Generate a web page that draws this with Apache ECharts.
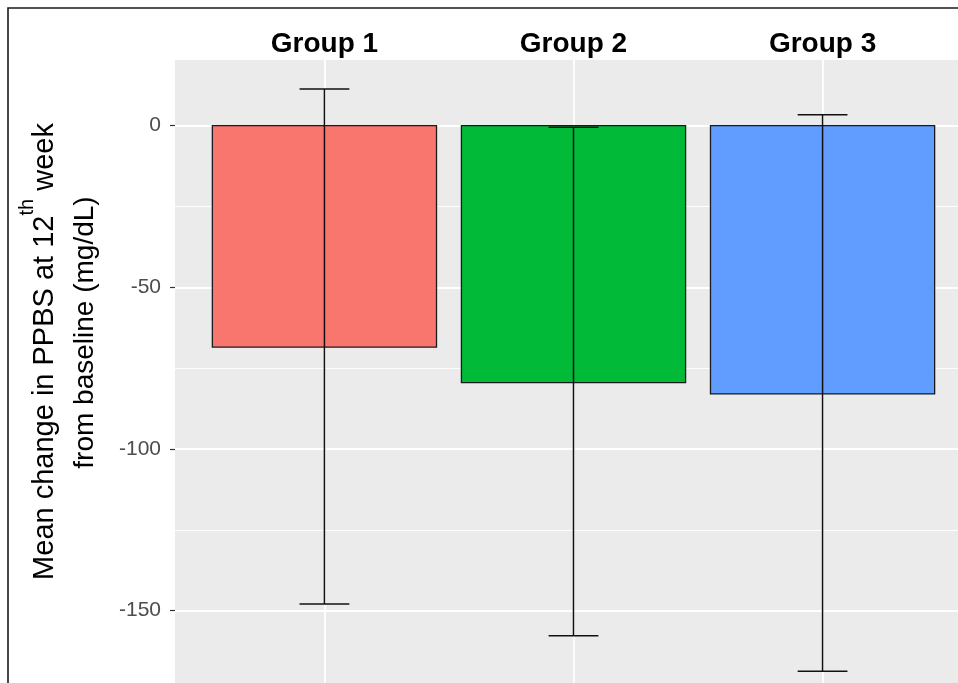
<!DOCTYPE html>
<html>
<head>
<meta charset="utf-8">
<script src="https://cdn.jsdelivr.net/npm/echarts@6/dist/echarts.min.js"></script>
<style>
  html, body { margin: 0; padding: 0; background: #ffffff; }
  #chart { width: 958px; height: 683px; }
</style>
</head>
<body>
<div id="chart"></div>
<script>
// Treatment groups and their mean change in post-prandial blood sugar (mg/dL)
const groups = ['Group 1', 'Group 2', 'Group 3'];
const groupPositions = [1, 2, 3];
const meanChange = [-68.5, -79.5, -83.0];
const errorUpper = [11.3, -0.5, 3.4];
const errorLower = [-148.0, -157.8, -168.8];
const fillColors = ['#F8766D', '#00BA38', '#619CFF'];

// Axis breaks
const yMajorBreaks = [0, -50, -100, -150];
const yMinorBreaks = [-25, -75, -125];

const FONT = 'Liberation Sans, Arial, Helvetica, sans-serif';

const barData = groupPositions.map((x, i) => [x, meanChange[i]]);
const errorData = groupPositions.map((x, i) => [x, errorLower[i], errorUpper[i]]);

const BAR_HALF = 0.45;
const WHISKER_HALF = 0.1;

const chart = echarts.init(document.getElementById('chart'), null, { renderer: 'canvas' });

chart.setOption({
  animation: false,
  backgroundColor: '#ffffff',
  graphic: [{
    type: 'rect',
    z: 100,
    silent: true,
    shape: { x: 8, y: 8, width: 1000, height: 1000 },
    style: { fill: 'none', stroke: '#1a1a1a', lineWidth: 1.6 }
  }],
  grid: {
    left: 175, top: 60, width: 797, bottom: 0,
    outerBoundsMode: 'none',
    show: true, backgroundColor: '#EBEBEB', borderWidth: 0,
    containLabel: false
  },
  xAxis: {
    type: 'value',
    position: 'top',
    min: 0.4, max: 3.6,
    axisLine: { show: false },
    axisTick: { show: false, customValues: groupPositions },
    axisLabel: {
      customValues: groupPositions,
      formatter: v => groups[Math.round(v) - 1] || '',
      fontFamily: FONT, fontSize: 28, fontWeight: 'bold', color: '#000000',
      margin: 2
    },
    splitLine: { show: true, lineStyle: { color: '#ffffff', width: 1.8 } }
  },
  yAxis: [{
    type: 'value',
    min: -172.4, max: 20.3,
    axisLine: { show: false },
    axisTick: {
      show: true, length: 5, customValues: yMajorBreaks,
      lineStyle: { color: '#333333', width: 1.2 }
    },
    axisLabel: {
      customValues: yMajorBreaks,
      fontFamily: FONT, fontSize: 21, color: '#4D4D4D', margin: 14
    },
    splitLine: { show: true, lineStyle: { color: '#ffffff', width: 1.8 } },
    name: '{a|Mean change in PPBS at 12}{sup|th}{a| week}\n{b|from baseline (mg/dL)}',
    nameLocation: 'middle',
    nameRotate: 90,
    nameGap: 64,
    nameTextStyle: {
      fontFamily: FONT, color: '#000000', align: 'center',
      padding: [0, 0, 0, 40],
      rich: {
        a: { fontFamily: FONT, fontSize: 29, color: '#000000', lineHeight: 44, verticalAlign: 'bottom' },
        sup: { fontFamily: FONT, fontSize: 20, color: '#000000', verticalAlign: 'top', padding: [2, 0, 0, 0] },
        b: { fontFamily: FONT, fontSize: 28, color: '#000000', lineHeight: 52, padding: [0, 0, 0, 38] }
      }
    }
  }, {
    type: 'value',
    min: -172.4, max: 20.3,
    position: 'left',
    axisLine: { show: false },
    axisTick: { show: false, customValues: yMinorBreaks },
    axisLabel: { show: false, customValues: yMinorBreaks },
    splitLine: { show: true, lineStyle: { color: '#ffffff', width: 0.9 } }
  }],
  series: [{
    type: 'custom',
    name: 'Mean change',
    z: 3,
    data: barData,
    renderItem: (params, api) => {
      const x = api.value(0);
      const y = api.value(1);
      const p0 = api.coord([x - BAR_HALF, 0]);
      const p1 = api.coord([x + BAR_HALF, y]);
      return {
        type: 'rect',
        shape: { x: p0[0], y: Math.min(p0[1], p1[1]), width: p1[0] - p0[0], height: Math.abs(p1[1] - p0[1]) },
        style: { fill: fillColors[params.dataIndex], stroke: '#1a1a1a', lineWidth: 1.3 }
      };
    }
  }, {
    type: 'custom',
    name: 'Error',
    z: 4,
    data: errorData,
    renderItem: (params, api) => {
      const x = api.value(0);
      const lo = api.value(1);
      const hi = api.value(2);
      const top = api.coord([x, hi]);
      const bot = api.coord([x, lo]);
      const tl = api.coord([x - WHISKER_HALF, hi]);
      const tr = api.coord([x + WHISKER_HALF, hi]);
      const bl = api.coord([x - WHISKER_HALF, lo]);
      const br = api.coord([x + WHISKER_HALF, lo]);
      const st = { stroke: '#111111', lineWidth: 1.5 };
      return {
        type: 'group',
        children: [
          { type: 'line', shape: { x1: top[0], y1: top[1], x2: bot[0], y2: bot[1] }, style: st },
          { type: 'line', shape: { x1: tl[0], y1: tl[1], x2: tr[0], y2: tr[1] }, style: st },
          { type: 'line', shape: { x1: bl[0], y1: bl[1], x2: br[0], y2: br[1] }, style: st }
        ]
      };
    }
  }]
});
</script>
</body>
</html>
